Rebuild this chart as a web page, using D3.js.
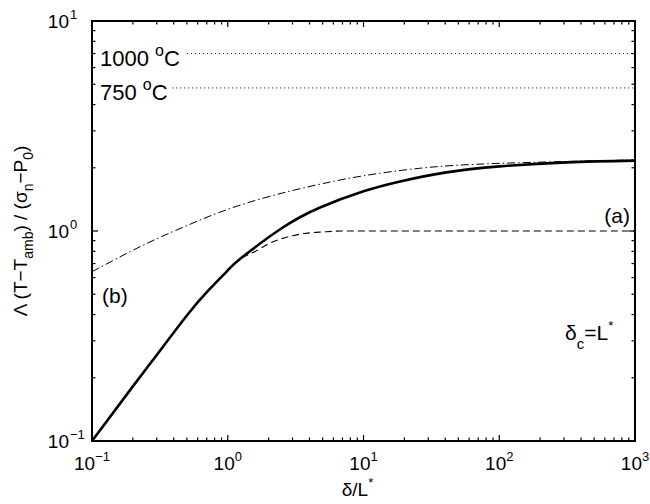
<!DOCTYPE html>
<html lang="en">
<head>
<meta charset="UTF-8">
<title>Temperature rise vs slip</title>
<script src="https://d3js.org/d3.v7.min.js"></script>
<style>
  body { margin: 0; background: #fff; }
  svg text { font-family: "Liberation Sans", Arial, Helvetica, sans-serif; fill: #000; }
</style>
</head>
<body>
<div id="chart"></div>
<script>
// ---- data ----
var solidX = [0.1, 0.2, 0.3, 0.5, 0.72, 1, 1.27, 2.51, 4.79, 10, 18.6, 39.8, 101, 316, 1000];
var solidY = [0.1, 0.182, 0.257, 0.396, 0.521, 0.650, 0.748, 1.033, 1.294, 1.545, 1.722, 1.897, 2.032, 2.123, 2.163];

var caseAX = [1.27, 1.6, 2, 2.5, 3, 4, 5, 7, 10, 30, 1000];
var caseAY = [0.748, 0.80, 0.87, 0.92, 0.95, 0.98, 0.99, 1.0, 1.0, 1.0, 1.0];

var caseBX = [0.1, 0.19, 0.317, 0.527, 0.877, 1.73, 3.41, 5.66, 9.9, 26, 101, 1000];
var caseBY = [0.64, 0.796, 0.933, 1.076, 1.23, 1.42, 1.59, 1.71, 1.83, 1.99, 2.10, 2.18];

var tempLabels = ["1000", "750"];
var tempValues = [7.0, 4.8];
var tempStart = [0.5, 0.39];

var xTickExp = [-1, 0, 1, 2, 3];
var yTickExp = [-1, 0, 1];

// ---- layout ----
var width = 650, height = 504;
var margin = { left: 92, top: 21, right: 15, bottom: 63 };
var w = width - margin.left - margin.right,
    h = height - margin.top - margin.bottom;

var svg = d3.select("#chart").append("svg")
    .attr("width", width)
    .attr("height", height);

var g = svg.append("g")
    .attr("transform", "translate(" + margin.left + "," + margin.top + ")");

var x = d3.scaleLog().domain([0.1, 1000]).range([0, w]);
var y = d3.scaleLog().domain([0.1, 10]).range([h, 0]);

function zip(xs, ys) { return xs.map(function (d, i) { return [d, ys[i]]; }); }

function lineWith(curve) {
    return d3.line()
        .x(function (d) { return x(d[0]); })
        .y(function (d) { return y(d[1]); })
        .curve(curve);
}

// temperature reference lines (dotted)
tempValues.forEach(function (v, i) {
    g.append("line")
        .attr("x1", x(tempStart[i])).attr("x2", w)
        .attr("y1", y(v)).attr("y2", y(v))
        .attr("stroke", "#000")
        .attr("stroke-width", 1)
        .attr("stroke-dasharray", "1,3");
});

// curves
g.append("path")
    .attr("d", lineWith(d3.curveNatural)(zip(caseBX, caseBY)))
    .attr("fill", "none").attr("stroke", "#000")
    .attr("stroke-width", 1)
    .attr("stroke-dasharray", "8,3,1.5,3");

g.append("path")
    .attr("d", lineWith(d3.curveMonotoneX)(zip(caseAX, caseAY)))
    .attr("fill", "none").attr("stroke", "#000")
    .attr("stroke-width", 1.1)
    .attr("stroke-dasharray", "7,4");

g.append("path")
    .attr("d", lineWith(d3.curveNatural)(zip(solidX, solidY)))
    .attr("fill", "none").attr("stroke", "#000")
    .attr("stroke-width", 2.6);

// ---- ticks (inward, all four sides) ----
function minorTicks(lo, hi) {
    var t = [];
    for (var e = lo; e < hi; e++) {
        for (var k = 2; k <= 9; k++) t.push(k * Math.pow(10, e));
    }
    return t;
}
var ticks = g.append("g").attr("stroke", "#000").attr("stroke-width", 1.2);
var xMajor = xTickExp.map(function (e) { return Math.pow(10, e); });
var yMajor = yTickExp.map(function (e) { return Math.pow(10, e); });

function drawX(vals, len) {
    vals.forEach(function (v) {
        var px = x(v);
        ticks.append("line").attr("x1", px).attr("x2", px).attr("y1", h).attr("y2", h - len);
        ticks.append("line").attr("x1", px).attr("x2", px).attr("y1", 0).attr("y2", len);
    });
}
function drawY(vals, len) {
    vals.forEach(function (v) {
        var py = y(v);
        ticks.append("line").attr("x1", 0).attr("x2", len).attr("y1", py).attr("y2", py);
        ticks.append("line").attr("x1", w).attr("x2", w - len).attr("y1", py).attr("y2", py);
    });
}
drawX(xMajor, 6);
drawX(minorTicks(-1, 3), 3.5);
drawY(yMajor, 6);
drawY(minorTicks(-1, 1), 3.5);

// box
g.append("rect")
    .attr("width", w).attr("height", h)
    .attr("fill", "none").attr("stroke", "#000").attr("stroke-width", 2);

// ---- tick labels ----
xTickExp.forEach(function (e) {
    var t = g.append("text")
        .attr("x", x(Math.pow(10, e)))
        .attr("y", h + 29)
        .attr("text-anchor", "middle")
        .style("font-size", "19px");
    t.append("tspan").text("10");
    t.append("tspan").attr("dy", -9).style("font-size", "13px").text(e < 0 ? "\u2212" + (-e) : e);
});

yTickExp.forEach(function (e) {
    var py = y(Math.pow(10, e));
    g.append("text")
        .attr("x", -23).attr("y", py + 7)
        .attr("text-anchor", "end")
        .style("font-size", "19px")
        .text("10");
    g.append("text")
        .attr("x", -22).attr("y", py - 2)
        .style("font-size", "13px")
        .text(e < 0 ? "\u2212" + (-e) : e);
});

// ---- axis titles ----
var xl = svg.append("text")
    .attr("x", margin.left + x(10) - 6)
    .attr("y", 496)
    .attr("text-anchor", "middle")
    .style("font-size", "19px");
xl.append("tspan").text("\u03b4/L");
xl.append("tspan").attr("dy", -9).style("font-size", "13px").text("*");

var yl = svg.append("text")
    .attr("transform", "translate(27," + (margin.top + h / 2) + ") rotate(-90)")
    .attr("text-anchor", "middle")
    .style("font-size", "19px");
yl.append("tspan").text("\u039b (T\u2212T");
yl.append("tspan").attr("dy", 6).style("font-size", "14px").text("amb");
yl.append("tspan").attr("dy", -6).text(") / (\u03c3");
yl.append("tspan").attr("dy", 6).style("font-size", "14px").text("n");
yl.append("tspan").attr("dy", -6).text("\u2212P");
yl.append("tspan").attr("dy", 6).style("font-size", "14px").text("0");
yl.append("tspan").attr("dy", -6).text(")");

// ---- annotations ----
tempLabels.forEach(function (lab, i) {
    var t = g.append("text")
        .attr("x", 8)
        .attr("y", y(tempValues[i]) + 12)
        .style("font-size", "22px");
    t.append("tspan").text(lab + " ");
    t.append("tspan").attr("dy", -10).style("font-size", "16px").text("o");
    t.append("tspan").attr("dy", 10).text("C");
});

g.append("text")
    .attr("x", w - 5).attr("y", y(1) - 8)
    .attr("text-anchor", "end")
    .style("font-size", "21px")
    .text("(a)");

g.append("text")
    .attr("x", 10).attr("y", 282)
    .style("font-size", "21px")
    .text("(b)");

var dc = g.append("text")
    .attr("x", 473).attr("y", 319)
    .style("font-size", "21px");
dc.append("tspan").text("\u03b4");
dc.append("tspan").attr("dy", 9).style("font-size", "15px").text("c");
dc.append("tspan").attr("dy", -9).text("=L");
dc.append("tspan").attr("dy", -10).style("font-size", "13px").text("*");
</script>
</body>
</html>
